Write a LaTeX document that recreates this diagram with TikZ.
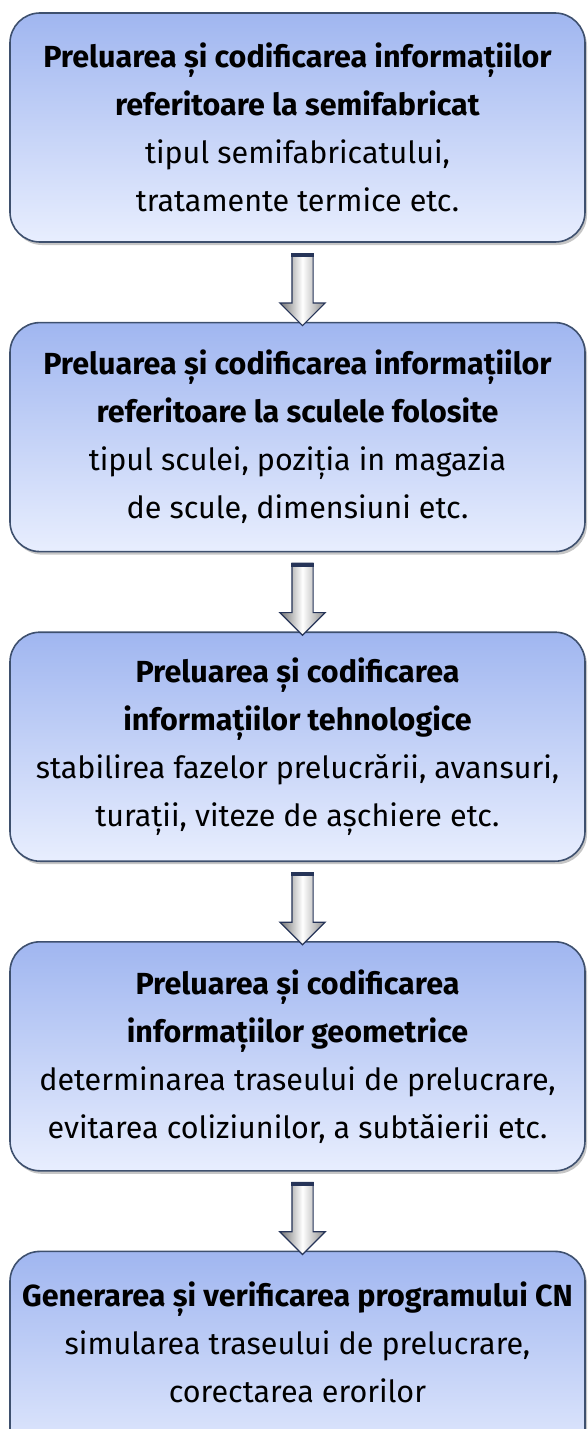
\documentclass[tikz,border=0pt]{standalone}
\usepackage{fontspec}
\setmainfont{Fira Sans}
\usetikzlibrary{positioning,shapes.arrows,shadows}
\definecolor{boxtop}{RGB}{160,182,240}
\definecolor{boxbottom}{RGB}{232,238,254}
\definecolor{boxedge}{RGB}{62,80,110}
\definecolor{arrowedge}{RGB}{38,52,88}

\begin{document}
\begin{tikzpicture}[x=1pt,y=1pt]
 \tikzstyle{stepbox} = [draw=boxedge,line width=1.6pt,rounded corners=30pt,top color=boxtop,bottom color=boxbottom,minimum width=575pt,minimum height=229pt,align=center,font=\fontsize{30.5}{48}\selectfont,drop shadow={shadow xshift=2pt,shadow yshift=-3pt,opacity=0.45}]
 \tikzstyle{downarrow} = [single arrow,shape border rotate=270,draw=arrowedge,line width=1.2pt,left color=black!55,right color=black!45,middle color=white,inner sep=10pt,minimum width=45pt,minimum height=72pt,single arrow head extend=12pt]
 \newcommand{\gap}{79pt}

  \useasboundingbox (0,0) rectangle (588,-1429);
  \clip (0,0) rectangle (588,-1429);

  % Boxes
  \node[stepbox] (b1) at (297.5,-127.5) {\textbf{Preluarea și codificarea informațiilor}\\ \textbf{referitoare la semifabricat}\\ tipul semifabricatului,\\ tratamente termice etc.};
  \node[stepbox,below=\gap of b1] (b2) {\textbf{Preluarea și codificarea informațiilor}\\ \textbf{referitoare la sculele folosite}\\ tipul sculei, poziția in magazia\\ de scule, dimensiuni etc.};
  \node[stepbox,below=\gap of b2] (b3) {\textbf{Preluarea și codificarea}\\ \textbf{informațiilor tehnologice}\\ stabilirea fazelor prelucrării, avansuri,\\ turații, viteze de așchiere etc.};
  \node[stepbox,below=\gap of b3] (b4) {\textbf{Preluarea și codificarea}\\ \textbf{informațiilor geometrice}\\ determinarea traseului de prelucrare,\\ evitarea coliziunilor, a subtăierii etc.};
  \node[stepbox,below=\gap of b4] (b5) {\textbf{Generarea și verificarea programului CN}\\ simularea traseului de prelucrare,\\ corectarea erorilor\\ \mbox{}};

  % Arrows
  \foreach \i/\j in {1/2,2/3,3/4,4/5} {
    \path (b\i.south) -- (b\j.north) node[midway,xshift=5pt,yshift=-2pt,downarrow] (a\i) {};
    \fill[arrowedge] (a\i.before tail) rectangle ([yshift=-4pt]a\i.after tail);
  }

\end{tikzpicture}
\end{document}
